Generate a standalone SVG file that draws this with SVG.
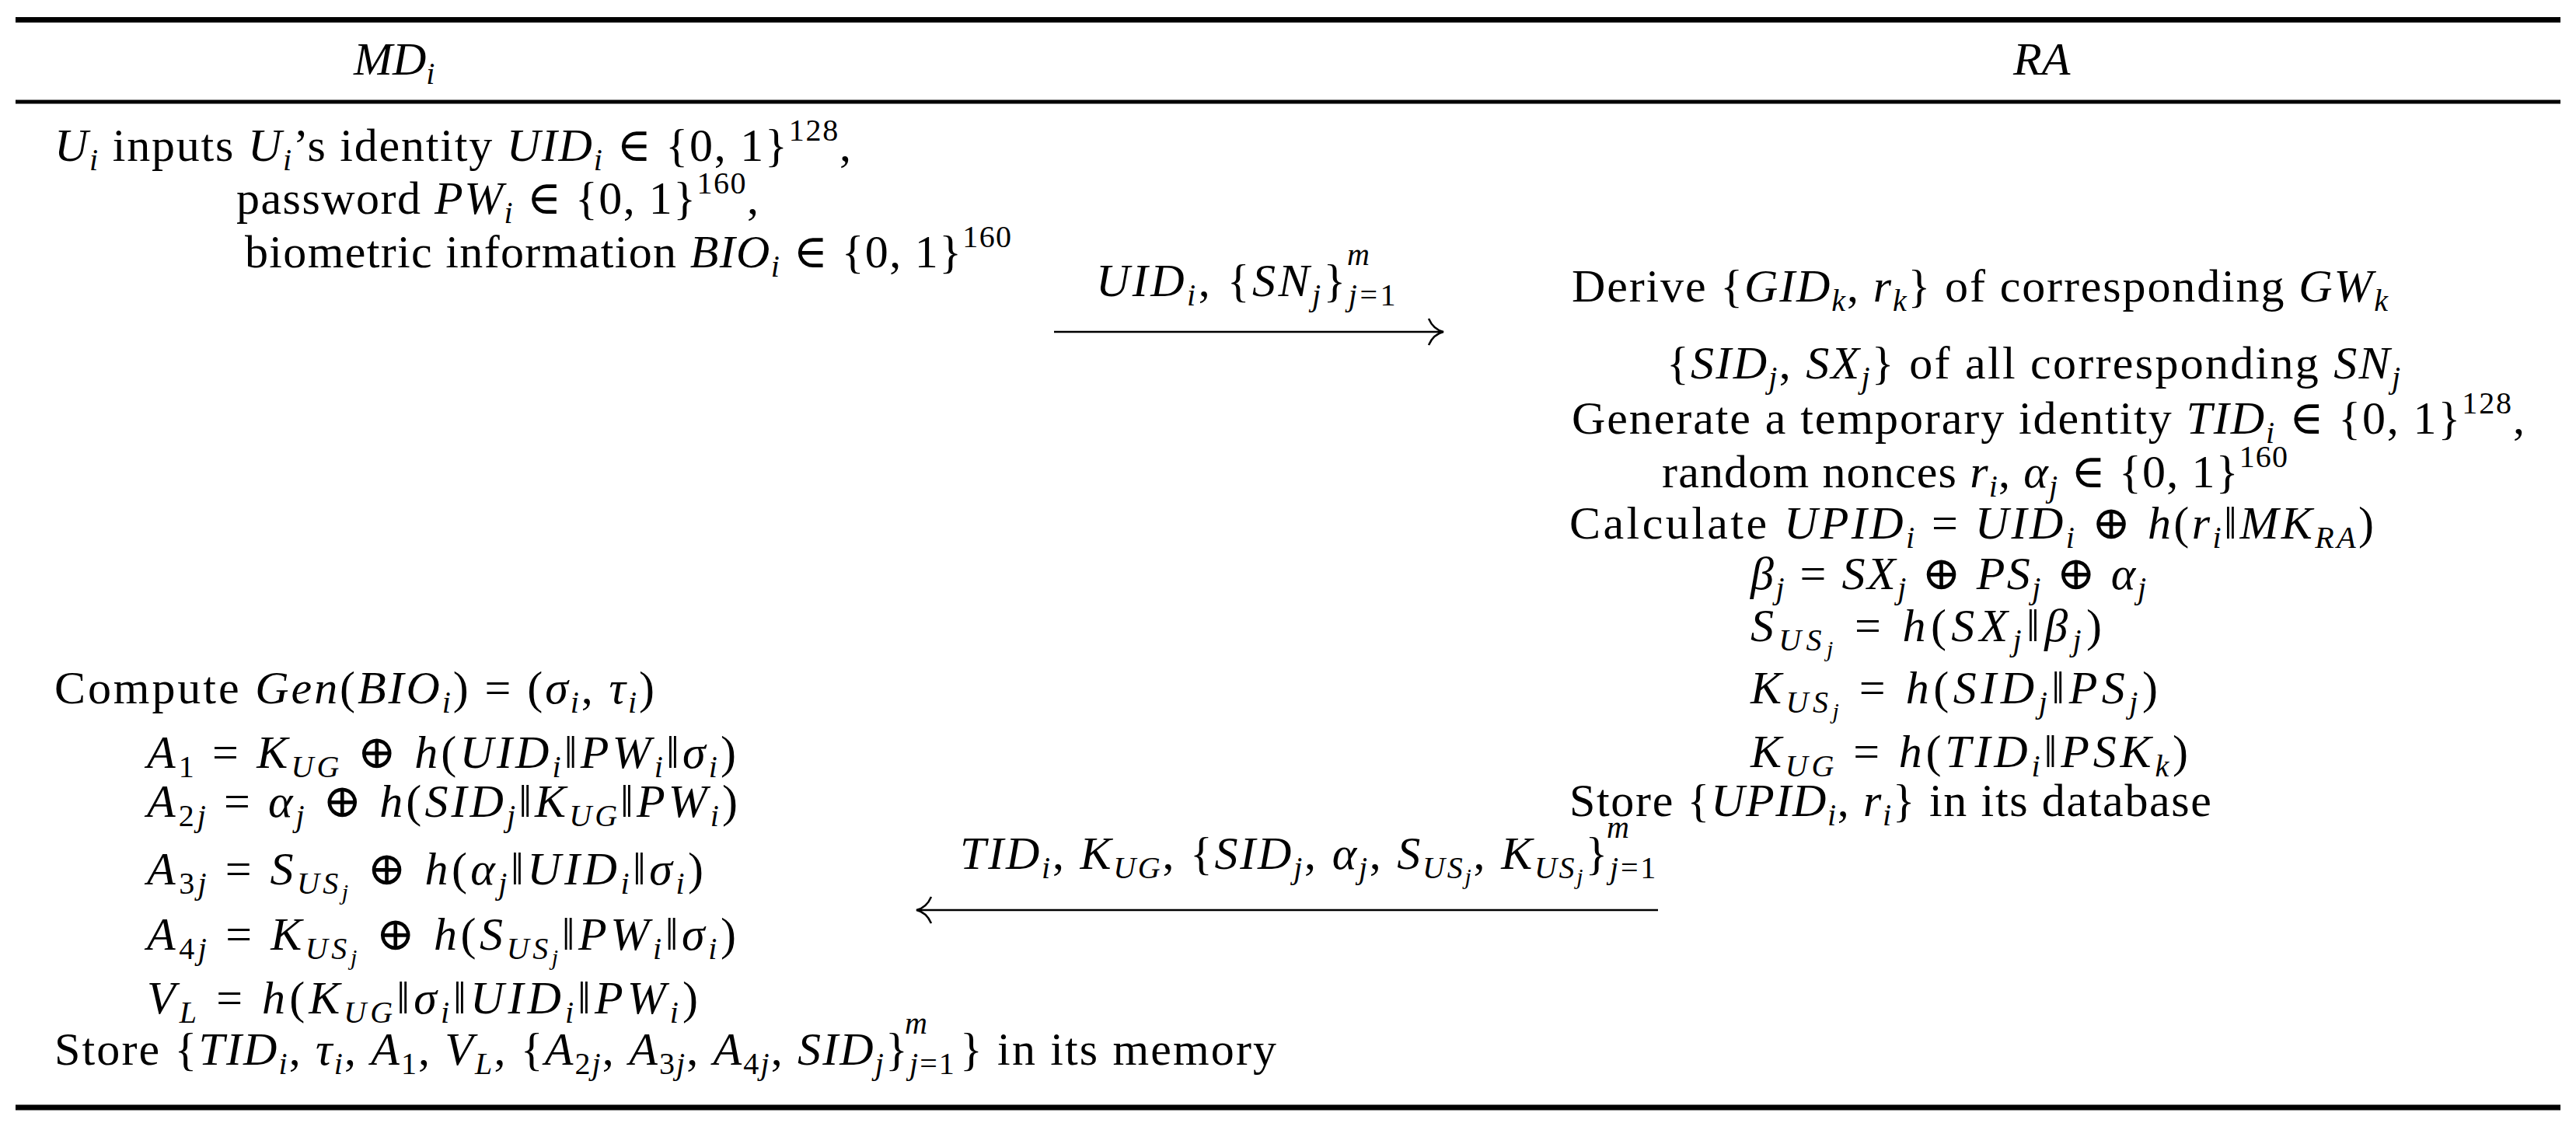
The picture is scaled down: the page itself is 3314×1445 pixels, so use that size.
<svg xmlns="http://www.w3.org/2000/svg" width="3314" height="1445" viewBox="0 0 3314 1445">
<style>
text{font-family:"Liberation Serif","DejaVu Serif",serif;font-size:60px;fill:#000}
.i{font-style:italic}
.b{font-size:40px;baseline-shift:-12px}
.p{font-size:40px;baseline-shift:26px}
.bb{font-size:30px;baseline-shift:-8px}
.rule{stroke:#000;fill:none}
.con{stroke:#000;stroke-width:2.5;fill:none}
</style>
<rect width="3314" height="1445" fill="#fff"/>
<g id="rules">
<line class="rule" x1="20" y1="25.5" x2="3294" y2="25.5" stroke-width="7"/>
<line class="rule" x1="20" y1="131" x2="3294" y2="131" stroke-width="5"/>
<line class="rule" x1="20" y1="1425" x2="3294" y2="1425" stroke-width="7"/>
</g>
<g id="header">
<text x="455" y="96"><tspan class="i">MD</tspan><tspan class="b i">i</tspan></text>
<text x="2590" y="96" class="i">RA</text>
</g>
<g id="md-input">
<text x="70" y="207" textLength="1025"><tspan class="i">U</tspan><tspan class="b i">i</tspan> inputs <tspan class="i">U</tspan><tspan class="b i">i</tspan>’s identity <tspan class="i">UID</tspan><tspan class="b i">i</tspan> ∈ {0, 1}<tspan class="p">128</tspan>,</text>
<text x="304" y="275" textLength="672">password <tspan class="i">PW</tspan><tspan class="b i">i</tspan> ∈ {0, 1}<tspan class="p">160</tspan>,</text>
<text x="315" y="344" textLength="986">biometric information <tspan class="i">BIO</tspan><tspan class="b i">i</tspan> ∈ {0, 1}<tspan class="p">160</tspan></text>
</g>
<g id="ra-process">
<text x="2022" y="388" textLength="1050">Derive {<tspan class="i">GID</tspan><tspan class="b i">k</tspan>, <tspan class="i">r</tspan><tspan class="b i">k</tspan>} of corresponding <tspan class="i">GW</tspan><tspan class="b i">k</tspan></text>
<text x="2144" y="487" textLength="944">{<tspan class="i">SID</tspan><tspan class="b i">j</tspan>, <tspan class="i">SX</tspan><tspan class="b i">j</tspan>} of all corresponding <tspan class="i">SN</tspan><tspan class="b i">j</tspan></text>
<text x="2022" y="558" textLength="1226">Generate a temporary identity <tspan class="i">TID</tspan><tspan class="b i">i</tspan> ∈ {0, 1}<tspan class="p">128</tspan>,</text>
<text x="2138" y="627" textLength="805">random nonces <tspan class="i">r</tspan><tspan class="b i">i</tspan>, <tspan class="i">α</tspan><tspan class="b i">j</tspan> ∈ {0, 1}<tspan class="p">160</tspan></text>
<text x="2019" y="693" textLength="1035">Calculate <tspan class="i">UPID</tspan><tspan class="b i">i</tspan> = <tspan class="i">UID</tspan><tspan class="b i">i</tspan> ⊕ <tspan class="i">h</tspan>(<tspan class="i">r</tspan><tspan class="b i">i</tspan>‖<tspan class="i">MK</tspan><tspan class="b i">RA</tspan>)</text>
<text x="2252" y="758" textLength="509"><tspan class="i">β</tspan><tspan class="b i">j</tspan> = <tspan class="i">SX</tspan><tspan class="b i">j</tspan> ⊕ <tspan class="i">PS</tspan><tspan class="b i">j</tspan> ⊕ <tspan class="i">α</tspan><tspan class="b i">j</tspan></text>
<text x="2252" y="825" textLength="452"><tspan class="i">S</tspan><tspan class="b i">US</tspan><tspan class="bb i" dy="12">j</tspan><tspan dy="-12"> = </tspan><tspan class="i">h</tspan>(<tspan class="i">SX</tspan><tspan class="b i">j</tspan>‖<tspan class="i">β</tspan><tspan class="b i">j</tspan>)</text>
<text x="2252" y="905" textLength="524"><tspan class="i">K</tspan><tspan class="b i">US</tspan><tspan class="bb i" dy="12">j</tspan><tspan dy="-12"> = </tspan><tspan class="i">h</tspan>(<tspan class="i">SID</tspan><tspan class="b i">j</tspan>‖<tspan class="i">PS</tspan><tspan class="b i">j</tspan>)</text>
<text x="2252" y="987" textLength="563"><tspan class="i">K</tspan><tspan class="b i">UG</tspan> = <tspan class="i">h</tspan>(<tspan class="i">TID</tspan><tspan class="b i">i</tspan>‖<tspan class="i">PSK</tspan><tspan class="b i">k</tspan>)</text>
<text x="2019" y="1050" textLength="826">Store {<tspan class="i">UPID</tspan><tspan class="b i">i</tspan>, <tspan class="i">r</tspan><tspan class="b i">i</tspan>} in its database</text>
</g>
<g id="md-compute">
<text x="70" y="905" textLength="772">Compute <tspan class="i">Gen</tspan>(<tspan class="i">BIO</tspan><tspan class="b i">i</tspan>) = (<tspan class="i">σ</tspan><tspan class="b i">i</tspan>, <tspan class="i">τ</tspan><tspan class="b i">i</tspan>)</text>
<text x="189" y="988" textLength="758"><tspan class="i">A</tspan><tspan class="b">1</tspan> = <tspan class="i">K</tspan><tspan class="b i">UG</tspan> ⊕ <tspan class="i">h</tspan>(<tspan class="i">UID</tspan><tspan class="b i">i</tspan>‖<tspan class="i">PW</tspan><tspan class="b i">i</tspan>‖<tspan class="i">σ</tspan><tspan class="b i">i</tspan>)</text>
<text x="189" y="1051" textLength="760"><tspan class="i">A</tspan><tspan class="b">2<tspan class="i">j</tspan></tspan> = <tspan class="i">α</tspan><tspan class="b i">j</tspan> ⊕ <tspan class="i">h</tspan>(<tspan class="i">SID</tspan><tspan class="b i">j</tspan>‖<tspan class="i">K</tspan><tspan class="b i">UG</tspan>‖<tspan class="i">PW</tspan><tspan class="b i">i</tspan>)</text>
<text x="189" y="1138" textLength="716"><tspan class="i">A</tspan><tspan class="b">3<tspan class="i">j</tspan></tspan> = <tspan class="i">S</tspan><tspan class="b i">US</tspan><tspan class="bb i" dy="12">j</tspan><tspan dy="-12"> ⊕ </tspan><tspan class="i">h</tspan>(<tspan class="i">α</tspan><tspan class="b i">j</tspan>‖<tspan class="i">UID</tspan><tspan class="b i">i</tspan>‖<tspan class="i">σ</tspan><tspan class="b i">i</tspan>)</text>
<text x="189" y="1222" textLength="758"><tspan class="i">A</tspan><tspan class="b">4<tspan class="i">j</tspan></tspan> = <tspan class="i">K</tspan><tspan class="b i">US</tspan><tspan class="bb i" dy="12">j</tspan><tspan dy="-12"> ⊕ </tspan><tspan class="i">h</tspan>(<tspan class="i">S</tspan><tspan class="b i">US</tspan><tspan class="bb i" dy="12">j</tspan><tspan dy="-12">‖</tspan><tspan class="i">PW</tspan><tspan class="b i">i</tspan>‖<tspan class="i">σ</tspan><tspan class="b i">i</tspan>)</text>
<text x="189" y="1304" textLength="709"><tspan class="i">V</tspan><tspan class="b i">L</tspan> = <tspan class="i">h</tspan>(<tspan class="i">K</tspan><tspan class="b i">UG</tspan>‖<tspan class="i">σ</tspan><tspan class="b i">i</tspan>‖<tspan class="i">UID</tspan><tspan class="b i">i</tspan>‖<tspan class="i">PW</tspan><tspan class="b i">i</tspan>)</text>
<text x="70" y="1370" textLength="1572">Store {<tspan class="i">TID</tspan><tspan class="b i">i</tspan>, <tspan class="i">τ</tspan><tspan class="b i">i</tspan>, <tspan class="i">A</tspan><tspan class="b">1</tspan>, <tspan class="i">V</tspan><tspan class="b i">L</tspan>, {<tspan class="i">A</tspan><tspan class="b">2<tspan class="i">j</tspan></tspan>, <tspan class="i">A</tspan><tspan class="b">3<tspan class="i">j</tspan></tspan>, <tspan class="i">A</tspan><tspan class="b">4<tspan class="i">j</tspan></tspan>, <tspan class="i">SID</tspan><tspan class="b i">j</tspan>}<tspan class="b i">j</tspan><tspan class="b">=1</tspan><tspan class="i" dx="-66" dy="-40" font-size="40">m</tspan><tspan dx="40" dy="40">} in its memory</tspan></text>
</g>
<g id="connectors">
<line class="con" x1="1356" y1="427" x2="1855" y2="427"/>
<path class="con" d="M1838,410 Q1844,424 1857,427 Q1844,430 1838,444"/>
<line class="con" x1="1181" y1="1171" x2="2133" y2="1171"/>
<path class="con" d="M1198,1154 Q1192,1168 1179,1171 Q1192,1174 1198,1188"/>
<text x="1410" y="381" textLength="389"><tspan class="i">UID</tspan><tspan class="b i">i</tspan>, {<tspan class="i">SN</tspan><tspan class="b i">j</tspan>}<tspan class="b i">j</tspan><tspan class="b">=1</tspan><tspan class="i" dx="-66" dy="-40" font-size="40">m</tspan></text>
<text x="1235" y="1118" textLength="898"><tspan class="i">TID</tspan><tspan class="b i">i</tspan>, <tspan class="i">K</tspan><tspan class="b i">UG</tspan>, {<tspan class="i">SID</tspan><tspan class="b i">j</tspan>, <tspan class="i">α</tspan><tspan class="b i">j</tspan>, <tspan class="i">S</tspan><tspan class="b i">US</tspan><tspan class="bb i" dy="12">j</tspan><tspan dy="-12">, </tspan><tspan class="i">K</tspan><tspan class="b i">US</tspan><tspan class="bb i" dy="12">j</tspan><tspan dy="-12">}</tspan><tspan class="b i">j</tspan><tspan class="b">=1</tspan><tspan class="i" dx="-66" dy="-40" font-size="40">m</tspan></text>
</g>
</svg>
